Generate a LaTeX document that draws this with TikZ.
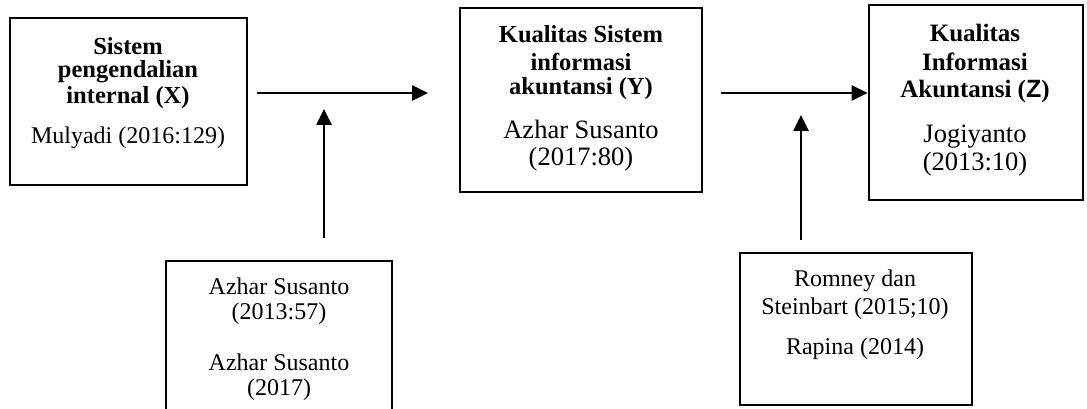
\documentclass[tikz,border=0pt]{standalone}
\usepackage{fontspec}
\setmainfont{Liberation Serif}
\newfontfamily\sansb{Liberation Sans}
\usetikzlibrary{arrows.meta}
\tikzset{
  box/.style={draw=black, line width=2.7pt, rectangle, inner sep=0pt},
  conn/.style={line width=2.6pt, -{Triangle[length=16pt,width=15pt]}},
  hd/.style={font=\fontsize{24.5}{26}\selectfont\bfseries, inner sep=0pt, anchor=center},
  tx/.style={font=\fontsize{24}{26}\selectfont, inner sep=0pt, anchor=center},
  txl/.style={font=\fontsize{26.5}{28}\selectfont, inner sep=0pt, anchor=center},
  hdl/.style={font=\fontsize{25}{27}\selectfont\bfseries, inner sep=0pt, anchor=center}
}
\begin{document}
\begin{tikzpicture}[x=1pt,y=-1pt]
\useasboundingbox (0,0) rectangle (1087,409);
% boxes
\node[box, minimum width=237pt, minimum height=167pt] (b1) at (128.5,101.5) {};
\node[box, minimum width=242pt, minimum height=184pt] (b2) at (581,100) {};
\node[box, minimum width=214pt, minimum height=195pt] (b3) at (976,102.5) {};
\node[box, minimum width=226pt, minimum height=180pt] (b4) at (279,351) {};
\node[box, minimum width=232pt, minimum height=152pt] (b5) at (856,329) {};
% box 1 text
\node[hd] (t11) at (128,46) {Sistem};
\node[hd] (t12) at (128,72) {pengendalian};
\node[hd] (t13) at (128,98) {internal (X)};
\node[tx] (t14) at (128,138) {Mulyadi (2016:129)};
% box 2 text
\node[hd] (t21) at (581,34) {Kualitas Sistem};
\node[hd] (t22) at (581,62) {informasi};
\node[hd] (t23) at (581,89) {akuntansi (Y)};
\node[txl] (t24) at (581,129) {Azhar Susanto};
\node[txl] (t25) at (581,159) {(2017:80)};
% box 3 text
\node[hdl] (t31) at (975,33) {Kualitas};
\node[hdl] (t32) at (975,62) {Informasi};
\node[hdl] (t33) at (975,91) {Akuntansi ({\sansb Z})};
\node[txl] (t34) at (975,137) {Jogiyanto};
\node[txl] (t35) at (975,164) {(2013:10)};
% box 4 text
\node[tx] (t41) at (279,286) {Azhar Susanto};
\node[tx] (t42) at (279,314) {(2013:57)};
\node[tx] (t43) at (279,362) {Azhar Susanto};
\node[tx] (t44) at (279,390) {(2017)};
% box 5 text
\node[tx] (t51) at (855,281) {Romney dan};
\node[tx] (t52) at (855,309) {Steinbart (2015;10)};
\node[tx] (t53) at (855,349) {Rapina (2014)};
% connector ends
\coordinate (a1s) at (257,93);
\coordinate (a1e) at (428,93);
\coordinate (a2s) at (721,93);
\coordinate (u1s) at (324,238);
\coordinate (u1e) at (324,109);
\coordinate (u2s) at (801,240);
\coordinate (u2e) at (801,115);
\draw[conn] (a1s) -- (a1e);
\draw[conn] (a2s) -- (b3.west |- a2s);
\draw[conn] (u1s) -- (u1e);
\draw[conn] (u2s) -- (u2e);
\end{tikzpicture}
\end{document}
